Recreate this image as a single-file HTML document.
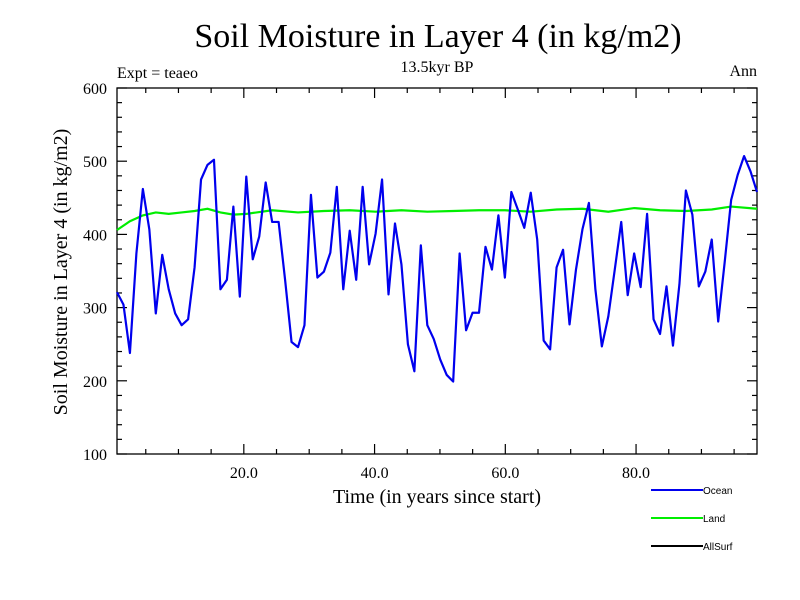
<!DOCTYPE html>
<html><head><meta charset="utf-8"><style>
body{margin:0;background:#fff;}
svg{display:block;}
text{font-family:"Liberation Serif",serif;fill:#000;}
</style></head><body>
<svg id="chart" width="800" height="600" viewBox="0 0 800 600" xmlns="http://www.w3.org/2000/svg">
<rect width="800" height="600" fill="#fff"/>
<text x="438" y="47" font-size="34" text-anchor="middle">Soil Moisture in Layer 4 (in kg/m2)</text>
<text x="437" y="72" font-size="16" text-anchor="middle">13.5kyr BP</text>
<text x="117" y="78" font-size="16">Expt = teaeo</text>
<text x="757" y="76" font-size="16" text-anchor="end">Ann</text>
<text transform="translate(67,272) rotate(-90)" font-size="20" text-anchor="middle">Soil Moisture in Layer 4 (in kg/m2)</text>
<text x="437" y="503" font-size="20" text-anchor="middle">Time (in years since start)</text>
<g id="axes"></g>
<g id="series"></g>
<g id="legend"></g>
</svg>
<script>
const oceanValues=[321,304,238,374,462,407,292,372,325,292,276,284,355,475,495,502,325,338,438,315,479,366,397,471,417,417,338,253,246,276,454,341,349,375,465,325,405,338,465,359,401,475,318,415,359,250,213,385,276,257,229,208,199,374,269,293,293,383,352,426,341,458,434,409,457,393,255,243,355,379,277,352,407,443,325,247,288,352,417,317,374,328,428,284,264,329,248,332,460,427,329,349,393,281,362,447,481,507,486,458];
const landIdx=[0,2,4,6,8,10,12,14,16,18,20,24,28,32,36,40,44,48,52,56,60,64,68,72,76,80,84,88,92,95,99];
const landValues=[406,418,426,430,428,430,432,435,430,427,428,433,430,432,433,431,433,431,432,433,433,431,434,435,431,436,433,432,434,438,435];
const yTicks=[100,200,300,400,500,600];
const xTickYears=[20,40,60,80];
const xTickLabels=["20.0","40.0","60.0","80.0"];

const L=117,R=757,T=88,B=454;
const yMin=100,yMax=600;
const nPts=oceanValues.length;
function xIdx(i){return L+i*(R-L)/(nPts-1);}
const yr0=0.6,yr1=98.5;
function xYear(y){return L+(y-yr0)*(R-L)/(yr1-yr0);}
function yS(v){return B-(v-yMin)*(B-T)/(yMax-yMin);}
const NS="http://www.w3.org/2000/svg";
function mk(tag,attrs,parent){const e=document.createElementNS(NS,tag);for(const k in attrs)e.setAttribute(k,attrs[k]);parent.appendChild(e);return e;}
const axes=document.getElementById('axes');
const frame=mk('rect',{x:L,y:T,width:R-L,height:B-T,fill:'none',stroke:'#000','stroke-width':1.3},axes);


for(let v=yMin;v<=yMax;v+=20){
  const major=(v%100===0);const len=major?10:5;const y=yS(v);
  const t1=mk('line',{x1:L,x2:L+len,y1:y,y2:y,stroke:'#000','stroke-width':1.2},axes);
  
  
  const t2=mk('line',{x1:R,x2:R-len,y1:y,y2:y,stroke:'#000','stroke-width':1.2},axes);
  
  
}
yTicks.forEach(v=>{
  const t=mk('text',{x:107,y:yS(v)+6,'font-size':16,'text-anchor':'end'},axes);
  t.textContent=v;
  
  
});
for(let yr=5;yr<yr1;yr+=5){
  const major=(yr%20===0);const len=major?10:5;const x=xYear(yr);
  const t1=mk('line',{x1:x,x2:x,y1:B,y2:B-len,stroke:'#000','stroke-width':1.2},axes);
  
  
  const t2=mk('line',{x1:x,x2:x,y1:T,y2:T+len,stroke:'#000','stroke-width':1.2},axes);
  
  
}
xTickYears.forEach((yr,i)=>{
  const t=mk('text',{x:xYear(yr),y:478,'font-size':16,'text-anchor':'middle'},axes);
  t.textContent=xTickLabels[i];
  
  
});
const series=document.getElementById('series');
const lp=mk('polyline',{points:landValues.map((v,i)=>xIdx(landIdx[i])+','+yS(v)).join(' '),fill:'none',stroke:'#00ee00','stroke-width':2.2},series);


const op=mk('polyline',{points:oceanValues.map((v,i)=>xIdx(i)+','+yS(v)).join(' '),fill:'none',stroke:'#0000ee','stroke-width':2.2,'stroke-linejoin':'round'},series);


const legend=document.getElementById('legend');
const legNames=["Ocean","Land","AllSurf"];
const legColors=["#0000ee","#00ee00","#000"];
legNames.forEach((n,i)=>{
  const y=490+i*28;
  const g=mk('g',{},legend);
  
  
  mk('line',{x1:651,x2:703,y1:y,y2:y,stroke:legColors[i],'stroke-width':2},g);
  const t=mk('text',{x:703,y:y+4,'font-size':10,style:'font-family:"Liberation Sans",sans-serif'},g);
  t.textContent=n;
});
</script>
</body></html>
